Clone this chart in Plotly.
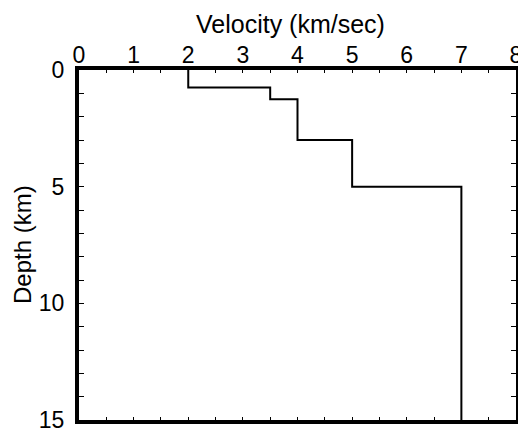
import plotly.graph_objects as go

# Layered velocity model
layer_top_km = [0, 0.75, 1.25, 3, 5]
layer_bottom_km = [0.75, 1.25, 3, 5, 15]
velocity_km_s = [2, 3.5, 4, 5, 7]

x_ticks = [0, 1, 2, 3, 4, 5, 6, 7, 8]
y_ticks = [0, 5, 10, 15]

xs, ys = [], []
for v, t, b in zip(velocity_km_s, layer_top_km, layer_bottom_km):
    xs += [v, v]
    ys += [t, b]

FONT = "Liberation Sans, Arial, Helvetica, sans-serif"

fig = go.Figure()
fig.add_trace(go.Scatter(x=xs, y=ys, mode="lines",
                         line=dict(color="black", width=2),
                         showlegend=False, hoverinfo="skip"))

fig.update_layout(
    width=518, height=431,
    margin=dict(l=79, r=2, t=70, b=11, autoexpand=False),
    paper_bgcolor="white", plot_bgcolor="white",
    font=dict(family=FONT, size=23, color="black"),
    xaxis=dict(side="top", range=[0, 8], tickvals=x_ticks, automargin=False,
               ticks="inside", ticklen=3, tickwidth=1, tickcolor="black",
               minor=dict(dtick=0.5, ticks="inside", ticklen=3, tickcolor="black"),
               showline=True, linewidth=4, linecolor="black", mirror="ticks",
               showgrid=False, zeroline=False, ticklabelstandoff=-6,
               ticklabeloverflow="allow", tickfont=dict(size=23)),
    yaxis=dict(range=[15, 0], tickvals=y_ticks, automargin=False,
               ticks="inside", ticklen=5, tickwidth=1, tickcolor="black",
               minor=dict(dtick=1, ticks="inside", ticklen=5, tickcolor="black"),
               showline=True, linewidth=4, linecolor="black", mirror="ticks",
               showgrid=False, zeroline=False, ticklabelstandoff=6,
               ticklabeloverflow="allow", tickfont=dict(size=23)),
    annotations=[
        dict(text="Velocity (km/sec)", xref="paper", yref="paper",
             x=0.483, y=1, yshift=46, showarrow=False, xanchor="center",
             yanchor="middle", font=dict(size=25)),
        dict(text="Depth (km)", xref="paper", yref="paper",
             x=0, xshift=-57, y=0.5, showarrow=False, textangle=-90,
             xanchor="center", yanchor="middle", font=dict(size=24)),
    ],
)

fig.write_html(
    "out.html",
    config={"displayModeBar": False},
    post_script="document.body.style.margin='0';document.body.style.overflow='hidden';",
)
